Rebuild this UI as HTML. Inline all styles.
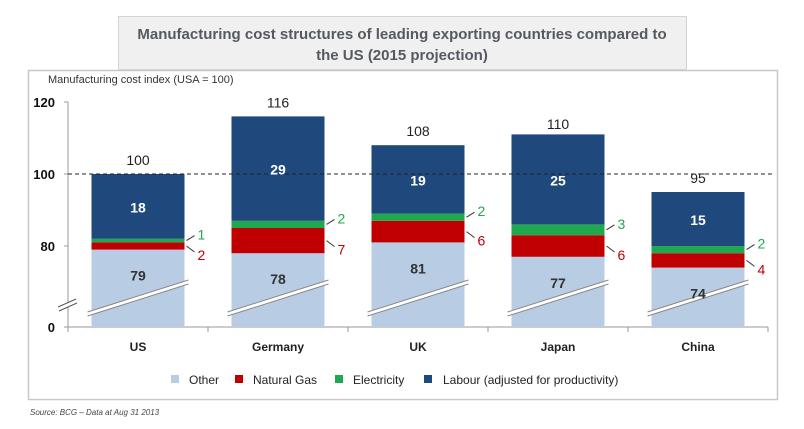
<!DOCTYPE html>
<html><head><meta charset="utf-8"><style>
body{margin:0;background:#fff;width:804px;height:424px;overflow:hidden;font-family:"Liberation Sans",Arial,sans-serif}
svg text{font-family:"Liberation Sans",Arial,sans-serif}
</style></head><body>
<svg id="chart" width="804" height="424" xmlns="http://www.w3.org/2000/svg">
<rect x="28.5" y="70.5" width="749" height="329" fill="#fff" stroke="#c8c8c8" stroke-width="1.5"/>
<rect x="118.5" y="16.5" width="568" height="53" fill="#f0f0f0" stroke="#d4d4d4"/>
<text x="402" y="39" text-anchor="middle" font-size="15" font-weight="bold" fill="#555a60">Manufacturing cost structures of leading exporting countries compared to</text>
<text x="402" y="60" text-anchor="middle" font-size="15" font-weight="bold" fill="#555a60">the US (2015 projection)</text>
<text x="48" y="83" font-size="11" fill="#333">Manufacturing cost index (USA = 100)</text>
<g id="axes"></g>
<g id="bars"></g>
<line id="refline" x1="68" x2="772" stroke="#222" stroke-dasharray="4,3" stroke-width="1"/>
<g id="labels"></g>
<g font-size="12" fill="#222">
<rect x="171" y="375" width="8" height="8" fill="#b8cce4"/>
<text x="189" y="384">Other</text>
<rect x="235" y="375" width="8" height="8" fill="#c00000"/>
<text x="253" y="384">Natural Gas</text>
<rect x="335" y="375" width="8" height="8" fill="#1fa84f"/>
<text x="353" y="384">Electricity</text>
<rect x="424" y="375" width="8" height="8" fill="#1f497d"/>
<text x="443" y="384">Labour (adjusted for productivity)</text>
</g>
<text x="30" y="415" font-size="8" font-style="italic" fill="#444">Source: BCG – Data at Aug 31 2013</text>
</svg>
<script>
const categories=["US","Germany","UK","Japan","China"];
const other=[79,78,81,77,74];
const gas=[2,7,6,6,4];
const elec=[1,2,2,3,2];
const labour=[18,29,19,25,15];
const totals=[100,116,108,110,95];
const yTicks=[0,80,100,120];
const refValue=100;
const NS="http://www.w3.org/2000/svg";
const baseY=327;
function y(v){return v<=0?baseY:174-(v-100)*3.6;}
function xc(i){return 138+i*140;}
const bw=93;
function mk(tag,attrs,parent,txt){const e=document.createElementNS(NS,tag);for(const k in attrs)e.setAttribute(k,attrs[k]);if(txt!==undefined)e.textContent=txt;parent.appendChild(e);return e;}
const axes=document.getElementById('axes'),bars=document.getElementById('bars'),labels=document.getElementById('labels');
// axes
let a=mk('line',{x1:68,x2:68,y1:y(120),y2:baseY,stroke:'#999'},axes);


a=mk('line',{x1:68,x2:768,y1:baseY,y2:baseY,stroke:'#999'},axes);


yTicks.forEach(t=>{
 const tk=mk('line',{x1:64,x2:68,y1:y(t),y2:y(t),stroke:'#999'},axes);
 
 
 const tl=mk('text',{x:55,y:y(t)+5,'text-anchor':'end','font-size':13,'font-weight':'bold',fill:'#111'},axes,String(t));
 
 
});
for(let i=0;i<=categories.length;i++){
 const tk=mk('line',{x1:68+i*140,x2:68+i*140,y1:baseY,y2:baseY+5,stroke:'#999'},axes);
 
 
}
// axis break
const br=mk('g',{},axes);


mk('polygon',{points:'58,307 76,299 77,303 59,311',fill:'#fff'},br);
mk('line',{x1:58,y1:307,x2:76,y2:299,stroke:'#555'},br);
mk('line',{x1:59,y1:311,x2:77,y2:303,stroke:'#555'},br);
refline=document.getElementById('refline');refline.setAttribute('y1',y(refValue));refline.setAttribute('y2',y(refValue));
const series=[[other,'#b8cce4','other'],[gas,'#c00000','natural-gas'],[elec,'#1fa84f','electricity'],[labour,'#1f497d','labour']];
categories.forEach((c,i)=>{
 const x0=xc(i)-bw/2;let cum=0;
 series.forEach(([arr,col,nm],s)=>{
  const lo=cum,hi=cum+arr[i];cum=hi;
  const r=mk('rect',{x:x0,y:y(hi),width:bw,height:y(lo)-y(hi),fill:col},bars);
  
  
 });
 // break lines
 const b=mk('g',{},bars);
 
 
 mk('polygon',{points:`${x0-4},${312} ${x0+bw+4},${280} ${x0+bw+4},${284} ${x0-4},${316}`,fill:'#fff'},b);
 mk('line',{x1:x0-4,y1:312,x2:x0+bw+4,y2:280,stroke:'#888','stroke-width':1},b);
 mk('line',{x1:x0-4,y1:316,x2:x0+bw+4,y2:284,stroke:'#888','stroke-width':1},b);
 // labels
 let t=mk('text',{x:xc(i),y:y(totals[i])-9,'text-anchor':'middle','font-size':14,fill:'#222'},labels,String(totals[i]));
 
 
 t=mk('text',{x:xc(i),y:y(other[i])+31,'text-anchor':'middle','font-size':14,'font-weight':'bold',fill:'#333'},labels,String(other[i]));
 
 
 const labTop=other[i]+gas[i]+elec[i];
 t=mk('text',{x:xc(i),y:(y(labTop)+y(labTop+labour[i]))/2+6,'text-anchor':'middle','font-size':14,'font-weight':'bold',fill:'#fff'},labels,String(labour[i]));
 
 
 const xr=x0+bw;
 const ye=y(other[i]+gas[i]+elec[i]/2), yg=y(other[i]+gas[i]/2);
 let l=mk('line',{x1:xr+2,y1:ye,x2:xr+10,y2:ye-5,stroke:'#333'},labels);
 
 
 t=mk('text',{x:xr+13,y:ye-1,'font-size':14,fill:'#1fa84f'},labels,String(elec[i]));
 
 
 l=mk('line',{x1:xr+2,y1:yg,x2:xr+10,y2:yg+6,stroke:'#333'},labels);
 
 
 t=mk('text',{x:xr+13,y:yg+14,'font-size':14,fill:'#c00000'},labels,String(gas[i]));
 
 
 t=mk('text',{x:xc(i),y:351,'text-anchor':'middle','font-size':12,'font-weight':'bold',fill:'#222'},labels,c);
 
 
});
</script>
</body></html>
